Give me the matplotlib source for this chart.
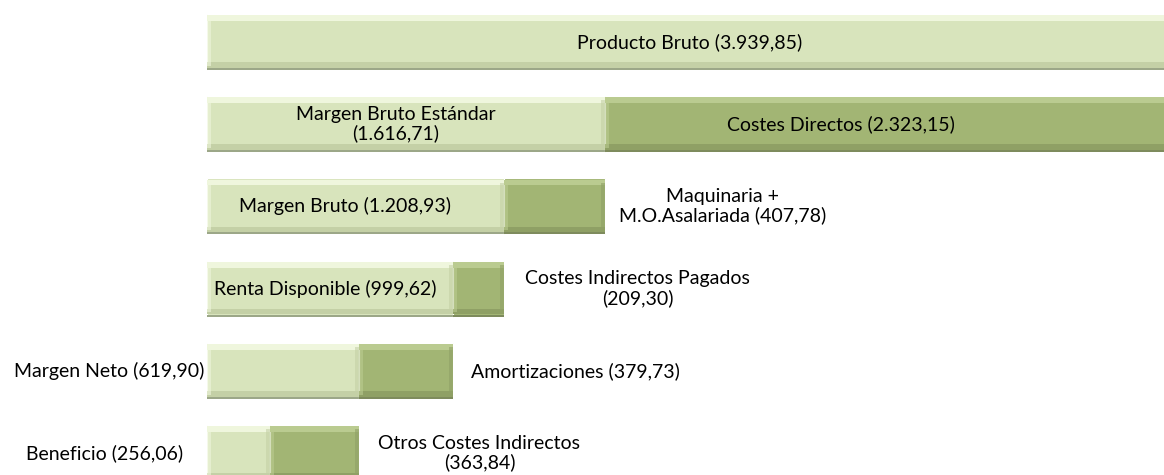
import matplotlib.pyplot as plt

# Cascade of margins (values in euros, Spanish number format in labels)
rows = ["Producto Bruto", "Margen Bruto Estándar", "Margen Bruto",
        "Renta Disponible", "Margen Neto", "Beneficio"]
margin_values = [3939.85, 1616.71, 1208.93, 999.62, 619.90, 256.06]
cost_values = [0.0, 2323.15, 407.78, 209.30, 379.73, 363.84]

margin_labels = ["Producto Bruto (3.939,85)", "Margen Bruto Estándar\n(1.616,71)",
                 "Margen Bruto (1.208,93)", "Renta Disponible (999,62)",
                 "Margen Neto (619,90)", "Beneficio (256,06)"]
cost_labels = ["", "Costes Directos (2.323,15)", "Maquinaria +\nM.O.Asalariada (407,78)",
               "Costes Indirectos Pagados\n(209,30)", "Amortizaciones (379,73)",
               "Otros Costes Indirectos\n(363,84)"]

# colours (Excel olive bevel look)
light = {"main": "#D8E4BC", "top": "#EFF6DD", "bot": "#C4D0A6", "edge": "#9CA788"}
dark = {"main": "#A2B574", "top": "#BACB90", "bot": "#8FA065", "edge": "#7E8B5D"}

fig = plt.figure(figsize=(11.64, 4.75), dpi=100)
ax = fig.add_axes([0, 0, 1, 1])
plt.rcParams['font.family'] = ['Lato', 'DejaVu Sans']

px_per_unit = 0.246
x0_px = 207
ax.set_xlim(-x0_px / px_per_unit, (1164 - x0_px) / px_per_unit)
row_px = 82.2
ax.set_ylim((475 - 42) / row_px, -42 / row_px)
ax.axis("off")

h = 0.68


def bevel_bar(y, left, width, c):
    ax.barh(y, width, left=left, height=h, color=c["main"], edgecolor="white", linewidth=0.8)
    # top highlight and bottom shadow strips
    ax.barh(y - h / 2 + 0.05, width, left=left, height=0.07, color=c["top"], linewidth=0)
    ax.barh(y + h / 2 - 0.06, width, left=left, height=0.07, color=c["bot"], linewidth=0)
    ax.barh(y + h / 2 - 0.012, width, left=left, height=0.024, color=c["edge"], linewidth=0)
    # side bevels
    side = 4 / px_per_unit
    ax.barh(y, side, left=left, height=h - 0.1, color=c["top"], linewidth=0, alpha=0.6)
    ax.barh(y, side, left=left + width - side, height=h - 0.1, color=c["bot"], linewidth=0, alpha=0.6)


for i in range(len(rows)):
    bevel_bar(i, 0, margin_values[i], light)
    if cost_values[i] > 0:
        bevel_bar(i, margin_values[i], cost_values[i], dark)

fs = 14
# labels for margin segments: (mode, pixel offset)
margin_pos = [("center", -2), ("center", -10), ("center", -11), ("center", -5),
              ("left", -3), ("left", -24)]
for i, (mode, off) in enumerate(margin_pos):
    if mode == "center":
        ax.annotate(margin_labels[i], (margin_values[i] / 2, i), xytext=(off, 0),
                    textcoords="offset pixels", ha="center", va="center", fontsize=fs,
                    linespacing=1.1)
    else:
        ax.annotate(margin_labels[i], (0, i), xytext=(off, 0),
                    textcoords="offset pixels", ha="right", va="center", fontsize=fs)

# labels for cost segments: (mode, pixel offset from segment centre or end)
cost_pos = [None, ("center", -50), ("after_c", 118), ("after_c", 133),
            ("after_l", 18), ("after_c", 120)]
for i, pos in enumerate(cost_pos):
    if pos is None:
        continue
    mode, off = pos
    end = margin_values[i] + cost_values[i]
    if mode == "center":
        ax.annotate(cost_labels[i], (margin_values[i] + cost_values[i] / 2, i), xytext=(off, 0),
                    textcoords="offset pixels", ha="center", va="center", fontsize=fs)
    elif mode == "after_c":
        ax.annotate(cost_labels[i], (end, i), xytext=(off, 0), textcoords="offset pixels",
                    ha="center", va="center", fontsize=fs, linespacing=1.1)
    else:
        ax.annotate(cost_labels[i], (end, i), xytext=(off, 0), textcoords="offset pixels",
                    ha="left", va="center", fontsize=fs)

fig.savefig("out.png", dpi=100)
